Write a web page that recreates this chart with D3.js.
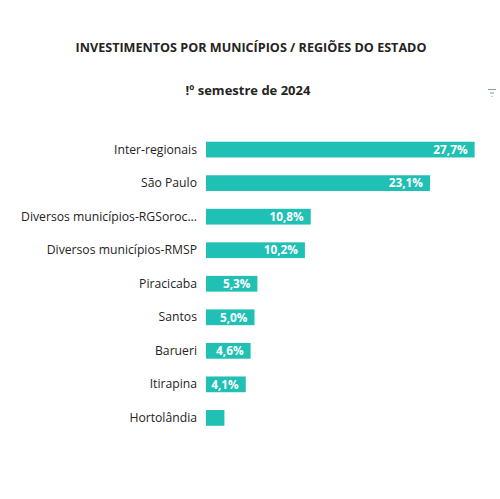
<!DOCTYPE html>
<html>
<head>
<meta charset="utf-8">
<script src="https://cdn.jsdelivr.net/npm/d3@7"></script>
<style>
  body { margin: 0; background: #fff; }
  text { font-family: "Open Sans", "Noto Sans", sans-serif; }
</style>
</head>
<body>
<div class="chart"></div>
<script>
var svgWidth = 500;
var svgHeight = 499;

// data
var categories = ["Inter-regionais", "São Paulo", "Diversos municípios-RGSoroc...", "Diversos municípios-RMSP",
  "Piracicaba", "Santos", "Barueri", "Itirapina", "Hortolândia"];
var values = [27.7, 23.1, 10.8, 10.2, 5.3, 5.0, 4.6, 4.1, 1.9];
var valueLabels = ["27,7%", "23,1%", "10,8%", "10,2%", "5,3%", "5,0%", "4,6%", "4,1%", ""];

var margin = {top: 133, left: 206, right: 20};

var svg = d3.select(".chart")
  .append("svg")
  .attr("width", svgWidth)
  .attr("height", svgHeight);

// titles
svg.append("text")
  .attr("x", 251)
  .attr("y", 52)
  .attr("text-anchor", "middle")
  .attr("font-size", "12.6px")
  .attr("font-weight", "bold")
  .attr("fill", "#252423")
  .text("INVESTIMENTOS POR MUNICÍPIOS / REGIÕES DO ESTADO");

svg.append("text")
  .attr("x", 248)
  .attr("y", 95)
  .attr("text-anchor", "middle")
  .attr("font-size", "13px")
  .attr("font-weight", "bold")
  .attr("fill", "#252423")
  .text("!º semestre de 2024");

// little filter icon
var icon = svg.append("g").attr("stroke", "#7f9bb5").attr("stroke-width", 1);
[[488, 496, 89.5], [490, 494, 93], [491.5, 492.5, 96.5]].forEach(function(l) {
  icon.append("line").attr("x1", l[0]).attr("x2", l[1]).attr("y1", l[2]).attr("y2", l[2]);
});

var xScale = d3.scaleLinear()
  .domain([0, 27.7])
  .range([0, 268.6]);

var yScale = d3.scaleBand()
  .domain(categories)
  .range([0, 301.5])
  .paddingInner(0.53)
  .paddingOuter(0.26);

var chartGroup = svg.append("g")
  .attr("transform", `translate(${margin.left}, ${margin.top})`);

var leftAxis = d3.axisLeft(yScale).tickSize(0).tickPadding(9);
var yAxis = chartGroup.append("g").call(leftAxis);
yAxis.select(".domain").remove();
yAxis.selectAll("text")
  .attr("font-size", "12.2px")
  .attr("font-family", "\"Open Sans\", \"Noto Sans\", sans-serif")
  .attr("fill", "#252423");

chartGroup.selectAll("rect")
  .data(values)
  .enter()
  .append("rect")
  .attr("x", 0)
  .attr("y", (d, i) => yScale(categories[i]))
  .attr("width", d => xScale(d))
  .attr("height", yScale.bandwidth())
  .attr("fill", "#20c0b5");

chartGroup.selectAll(".val")
  .data(values)
  .enter()
  .append("text")
  .attr("class", "val")
  .attr("x", d => xScale(d) - 7)
  .attr("y", (d, i) => yScale(categories[i]) + yScale.bandwidth() / 2)
  .attr("dy", "0.36em")
  .attr("text-anchor", "end")
  .attr("font-size", "11.8px")
  .attr("font-weight", "bold")
  .attr("fill", "#fff")
  .text((d, i) => valueLabels[i]);
</script>
</body>
</html>
